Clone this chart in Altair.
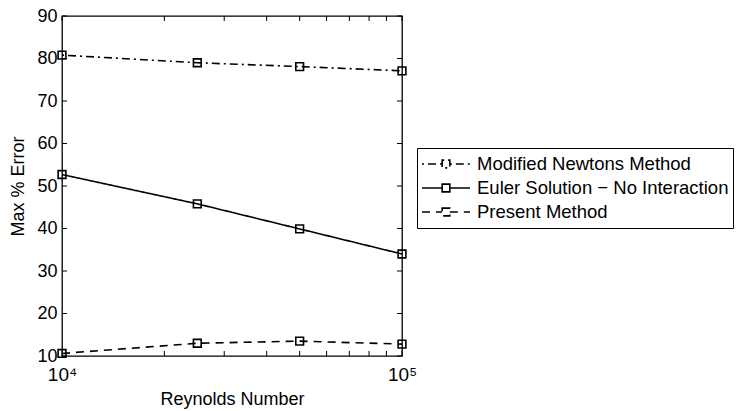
import altair as alt
import pandas as pd

reynolds = [1e4, 2.5e4, 5e4, 1e5]
series_names = ["Modified Newtons Method", "Euler Solution \u2212 No Interaction", "Present Method"]
newton = [80.8, 79.0, 78.1, 77.1]
euler = [52.7, 45.8, 39.9, 34.0]
present = [10.6, 13.0, 13.5, 12.8]
y_ticks = [10, 20, 30, 40, 50, 60, 70, 80, 90]
x_ticks = [1e4, 2e4, 3e4, 4e4, 5e4, 6e4, 7e4, 8e4, 9e4, 1e5]
x_labels = [1e4, 1e5]

rows = []
for name, vals in zip(series_names, [newton, euler, present]):
    for r, v in zip(reynolds, vals):
        rows.append({"series": name, "re": r, "err": v})
df = pd.DataFrame(rows)

W, H = 340, 340
xs = alt.Scale(type="log", domain=[1e4, 1e5])
ys = alt.Scale(domain=[10, 90])
FONT = "Liberation Sans"

x_axis = alt.Axis(values=x_labels, ticks=False, domain=False, grid=False,
                  labelExpr="datum.value == 10000 ? '10\u2074' : '10\u2075'",
                  labelFontSize=19, labelPadding=9, labelFlush=False,
                  title="Reynolds Number", titleFontSize=18, titlePadding=6)
y_axis = alt.Axis(values=y_ticks, ticks=False, domain=False, grid=False,
                  labelFontSize=18, labelPadding=5,
                  title="Max % Error", titleFontSize=18, titlePadding=9)

lines = alt.Chart(df).mark_line(color="black", strokeWidth=1.6).encode(
    x=alt.X("re:Q", scale=xs, axis=x_axis),
    y=alt.Y("err:Q", scale=ys, axis=y_axis),
    strokeDash=alt.StrokeDash(
        "series:N", title=None,
        scale=alt.Scale(domain=series_names, range=[[2, 4, 8, 4], [1, 0], [8, 6]]),
        legend=alt.Legend(
            orient="none", legendX=355, legendY=132,
            symbolType="M-1,0H-0.16M0.16,0H1M-0.16,-0.16H0.16V0.16H-0.16Z",
            symbolSize=2304, symbolStrokeColor="black", symbolStrokeWidth=1.6,
            symbolFillColor="transparent",
            labelFontSize=18.5, labelFont=FONT, labelColor="black", labelLimit=1000,
            labelOffset=6, clipHeight=24, rowPadding=0, padding=4,
            strokeColor="black", fillColor="white")),
    order="re:Q",
)

points = alt.Chart(df).mark_point(shape="square", filled=False, color="black",
                                   size=60, strokeWidth=1.6, opacity=1).encode(
    x=alt.X("re:Q", scale=xs, axis=x_axis),
    y=alt.Y("err:Q", scale=ys, axis=y_axis),
    detail="series:N",
)

xt = pd.DataFrame({"re": x_ticks})
yt = pd.DataFrame({"err": y_ticks})

ytl = alt.Chart(yt).mark_rule(color="black", strokeWidth=1).encode(
    y=alt.Y("err:Q", scale=ys, axis=y_axis), x=alt.value(0), x2=alt.value(5))
ytr = alt.Chart(yt).mark_rule(color="black", strokeWidth=1).encode(
    y=alt.Y("err:Q", scale=ys, axis=y_axis), x=alt.value(W - 5), x2=alt.value(W))
xtb = alt.Chart(xt).mark_rule(color="black", strokeWidth=1).encode(
    x=alt.X("re:Q", scale=xs, axis=x_axis), y=alt.value(H - 5), y2=alt.value(H))
xtt = alt.Chart(xt).mark_rule(color="black", strokeWidth=1).encode(
    x=alt.X("re:Q", scale=xs, axis=x_axis), y=alt.value(0), y2=alt.value(5))

chart = alt.layer(lines, points, ytl, ytr, xtb, xtt).properties(
    width=W, height=H,
    autosize=alt.AutoSizeParams(type="none"),
    padding={"left": 62, "top": 16, "right": 338, "bottom": 55},
).configure(
    font=FONT,
).configure_view(
    stroke="black", strokeWidth=1.3,
).configure_axis(
    labelColor="black", titleColor="black", titleFontWeight="normal",
    labelFont=FONT, titleFont=FONT,
)

chart.save("out.html", embed_options={"renderer": "svg", "actions": False})
